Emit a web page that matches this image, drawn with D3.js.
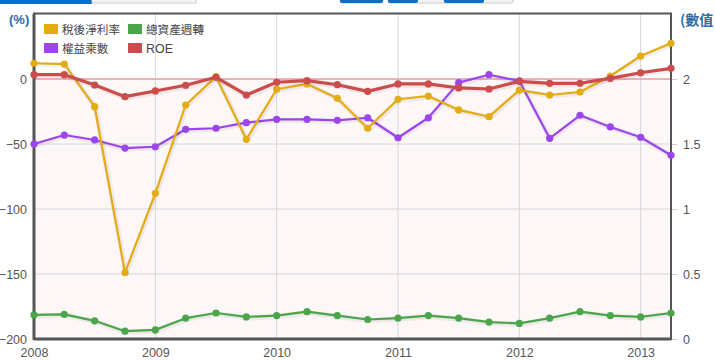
<!DOCTYPE html>
<html><head><meta charset="utf-8">
<script src="https://cdn.jsdelivr.net/npm/d3@7/dist/d3.min.js"></script>
<style>
body{margin:0;background:#fff;font-family:"Liberation Sans",Arial,"Noto Sans CJK TC",sans-serif;}
svg{display:block;}
</style></head><body>
<svg id="c" width="715" height="360"></svg>
<script>
const quarters = ["2008Q1","2008Q2","2008Q3","2008Q4","2009Q1","2009Q2","2009Q3","2009Q4","2010Q1","2010Q2","2010Q3","2010Q4","2011Q1","2011Q2","2011Q3","2011Q4","2012Q1","2012Q2","2012Q3","2012Q4","2013Q1","2013Q2"];
const netMargin = [12.1,11.5,-21.3,-148.9,-87.9,-20,1.8,-46.4,-7.9,-3.8,-14.8,-37.9,-15.6,-13.1,-23.8,-29,-8.5,-12.3,-10,2.3,17.7,27.5];
const assetTurnover = [0.185,0.19,0.14,0.06,0.07,0.16,0.20,0.17,0.18,0.21,0.18,0.15,0.16,0.18,0.16,0.13,0.12,0.16,0.21,0.18,0.17,0.20];
const equityMultiplier = [1.50,1.569,1.531,1.469,1.479,1.613,1.621,1.664,1.69,1.69,1.682,1.702,1.548,1.702,1.972,2.033,1.985,1.544,1.721,1.631,1.552,1.413];
const roe = [3.3,3.3,-4.6,-13.6,-9.2,-4.8,1.3,-12.3,-2.5,-1.3,-4.4,-9.5,-3.8,-3.8,-6.9,-7.7,-1.8,-3.3,-3.3,0.5,4.8,8.2];
const leftTicks = [-200,-150,-100,-50,0];
const rightTicks = [0,0.5,1,1.5,2];
const yearTicks = [2008,2009,2010,2011,2012,2013];
const seriesNames = ["稅後淨利率","總資產週轉","權益乘數","ROE"];

const colors = {"稅後淨利率":"#e3ac12","總資產週轉":"#4ba64b","權益乘數":"#9b45ec","ROE":"#cc4b4b"};
const svg = d3.select("#c");
const L=34,R=671,T=14,B=339;
const qx = q => +q.slice(0,4) + (+q.slice(5)-1)/4;
const x = d3.scaleLinear().domain([2008,2013.25]).range([L,R]);
const yL = d3.scaleLinear().domain([-200,50]).range([B,T]);
const yR = d3.scaleLinear().domain([0,2.5]).range([B,T]);

// top decoration (page buttons, cropped)
svg.append("rect").attr("x",0).attr("y",0).attr("width",92).attr("height",4).attr("fill","#0a6fc8");
svg.append("rect").attr("x",92).attr("y",-2).attr("width",104).attr("height",5).attr("fill","#f4f4f4").attr("stroke","#ccc");
[[340,383,383],[388,418,447],[444,484,513]].forEach(b=>{
  svg.append("rect").attr("x",b[0]).attr("y",-2).attr("width",b[2]-b[0]).attr("height",5).attr("fill","#f4f4f4").attr("stroke","#ccc").attr("rx",2);
  svg.append("rect").attr("x",b[0]).attr("y",-2).attr("width",b[1]-b[0]).attr("height",5).attr("fill","#0a6fc8").attr("rx",2);
});

// plot background
svg.append("rect").attr("x",L).attr("y",T).attr("width",R-L).attr("height",yL(0)-T).attr("fill","#fff");
svg.append("rect").attr("x",L).attr("y",yL(0)).attr("width",R-L).attr("height",B-yL(0)).attr("fill","#fdf7f8");

// grid
svg.append("g").selectAll("line").data(yearTicks.slice(1)).join("line")
  .attr("x1",d=>x(d)).attr("x2",d=>x(d)).attr("y1",T).attr("y2",B).attr("stroke","#d6d6d6").attr("stroke-width",1);
svg.append("g").selectAll("line").data(leftTicks.filter(d=>d!==0 && d!==-200)).join("line")
  .attr("x1",L).attr("x2",R).attr("y1",d=>yL(d)).attr("y2",d=>yL(d)).attr("stroke","#d6d6d6").attr("stroke-width",1);
svg.append("line").attr("x1",L).attr("x2",R).attr("y1",yL(0)).attr("y2",yL(0)).attr("stroke","#e59aa4").attr("stroke-width",1.5);

// axes
const fam = "Liberation Sans, Arial, sans-serif";
const gL = svg.append("g").attr("transform",`translate(${L},0)`).call(d3.axisLeft(yL).tickValues(leftTicks).tickSize(0).tickPadding(7));
gL.select(".domain").remove();
gL.selectAll("text").attr("fill","#555").style("font-size","12.5px").style("font-family",fam);
const gR = svg.append("g").attr("transform",`translate(${R},0)`).call(d3.axisRight(yR).tickValues(rightTicks).tickSize(6).tickPadding(6).tickFormat(d3.format("")));
gR.select(".domain").remove();
gR.selectAll("line").attr("stroke","#ccc");
gR.selectAll("text").attr("fill","#555").style("font-size","12.5px").style("font-family",fam);
const gB = svg.append("g").attr("transform",`translate(0,${B})`).call(d3.axisBottom(x).tickValues(yearTicks).tickSize(0).tickPadding(9).tickFormat(d3.format("d")));
gB.select(".domain").remove();
gB.selectAll("text").attr("fill","#555").style("font-size","12.5px").style("font-family",fam);

// frame
svg.append("rect").attr("x",L).attr("y",T-0.5).attr("width",R-L).attr("height",B-T+0.5).attr("fill","none").attr("stroke","#555").attr("stroke-width",2);
svg.append("line").attr("x1",L).attr("x2",L).attr("y1",T).attr("y2",B+1).attr("stroke","#555").attr("stroke-width",3);
svg.append("line").attr("x1",L).attr("x2",R).attr("y1",B).attr("y2",B).attr("stroke","#555").attr("stroke-width",3);

// axis titles
svg.append("text").attr("x",9).attr("y",24).text("(%)").attr("fill","#2b6ea8").style("font-weight","bold").style("font-size","13px");
svg.append("text").attr("x",680).attr("y",25).text("(數值").attr("fill","#2b6ea8").style("font-weight","bold").style("font-size","14px").style("font-family","Noto Sans CJK TC, sans-serif");

// series
const series = [
  {name:"總資產週轉", vals:assetTurnover, y:yR, w:2.2},
  {name:"權益乘數", vals:equityMultiplier, y:yR, w:2.2},
  {name:"稅後淨利率", vals:netMargin, y:yL, w:2.2},
  {name:"ROE", vals:roe, y:yL, w:3.2}
];
const plot = svg.append("g");
series.forEach(s=>{
  const pts = quarters.map((q,i)=>[x(qx(q)), s.y(s.vals[i])]);
  const line = d3.line();
  plot.append("path").attr("d",line(pts)).attr("fill","none").attr("stroke","#000").attr("stroke-opacity",0.06)
    .attr("stroke-width",s.w+3).attr("transform","translate(1,1)").attr("stroke-linejoin","round");
  plot.append("path").attr("d",line(pts)).attr("fill","none").attr("stroke",colors[s.name]).attr("stroke-width",s.w).attr("stroke-linejoin","round");
  plot.append("g").selectAll("circle").data(pts).join("circle")
    .attr("cx",d=>d[0]).attr("cy",d=>d[1]).attr("r",3.6).attr("fill",colors[s.name]);
});

// legend
const lg = svg.append("g");
const lpos = [[44,24],[128,24],[44,43],[128,43]];
seriesNames.forEach((n,i)=>{
  lg.append("rect").attr("x",lpos[i][0]).attr("y",lpos[i][1]).attr("width",14).attr("height",10).attr("fill",colors[n]);
  lg.append("text").attr("x",lpos[i][0]+18).attr("y",lpos[i][1]+10).text(n).attr("fill","#444")
    .style("font-size", n==="ROE" ? "12.5px" : "11.6px").style("font-family", n==="ROE" ? fam : "Noto Sans CJK TC, sans-serif");
});
</script>
</body></html>
